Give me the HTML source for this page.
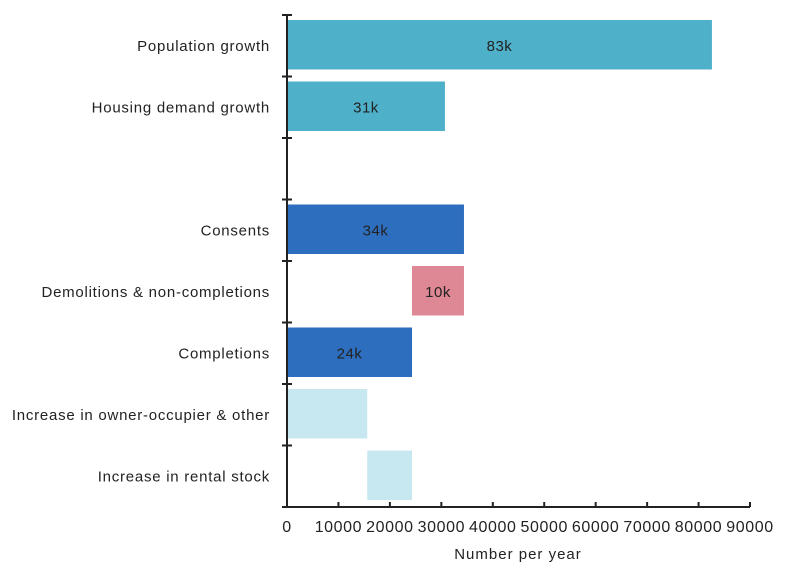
<!DOCTYPE html>
<html><head><meta charset="utf-8"><style>
body{margin:0;background:#fff;}
svg text{font-family:"Liberation Sans",sans-serif;fill:#222;}
</style></head><body>
<svg id="chart" width="800" height="572" xmlns="http://www.w3.org/2000/svg"></svg>
<script>
const categories=["Population growth","Housing demand growth","","Consents","Demolitions & non-completions","Completions","Increase in owner-occupier & other","Increase in rental stock"];
const barStarts=[0,0,null,0,24300,0,0,15600];
const barEnds=[82600,30700,null,34400,34400,24300,15600,24300];
const barLabels=["83k","31k","","34k","10k","24k","",""];
const barColors=["#4fb0c9","#4fb0c9",null,"#2e6ebf","#de8795","#2e6ebf","#c7e8f0","#c7e8f0"];
const xTicks=[0,10000,20000,30000,40000,50000,60000,70000,80000,90000];
const svg=document.getElementById('chart');
const NS="http://www.w3.org/2000/svg";
const x0=287,x1=750,yTop=15,yBot=507;
const xs=v=>x0+(v/90000)*(x1-x0);
const rowH=(yBot-yTop)/categories.length;
function mk(t,a){const e=document.createElementNS(NS,t);for(const k in a)e.setAttribute(k,a[k]);svg.appendChild(e);return e;}
categories.forEach((c,i)=>{
  const yt=yTop+i*rowH;
  if(barStarts[i]!==null){
    const r=mk('rect',{x:xs(barStarts[i]),y:yt+5,width:xs(barEnds[i])-xs(barStarts[i]),height:rowH-12,fill:barColors[i]});
    
    
    if(barLabels[i]){
      const t=mk('text',{x:(xs(barStarts[i])+xs(barEnds[i]))/2,y:yt+5+(rowH-12)/2+6,'text-anchor':'middle','font-size':15,'letter-spacing':0.5});
      t.textContent=barLabels[i];
      
      
    }
  }
  if(c){
    const l=mk('text',{x:270,y:yt+rowH/2+5,'text-anchor':'end','font-size':15,'letter-spacing':0.75});
    l.textContent=c;
    
    
  }
});
for(let i=0;i<=categories.length;i++){
  const y=yTop+i*rowH;
  const tk=mk('line',{x1:282,x2:292,y1:y,y2:y,stroke:'#222','stroke-width':2});
  
  
}
const ya=mk('line',{x1:x0,x2:x0,y1:yTop,y2:yBot,stroke:'#222','stroke-width':2});


const xa=mk('line',{x1:x0-1,x2:x1,y1:yBot,y2:yBot,stroke:'#222','stroke-width':2});


xTicks.forEach(v=>{
  const tk=mk('line',{x1:xs(v),x2:xs(v),y1:yBot-5,y2:yBot,stroke:'#222','stroke-width':2});
  
  
  const t=mk('text',{x:xs(v),y:532,'text-anchor':'middle','font-size':16,'letter-spacing':0.6});
  t.textContent=v;
  
  
});
const at=mk('text',{x:518,y:559,'text-anchor':'middle','font-size':15,'letter-spacing':1});
at.textContent="Number per year";


</script>
</body></html>
